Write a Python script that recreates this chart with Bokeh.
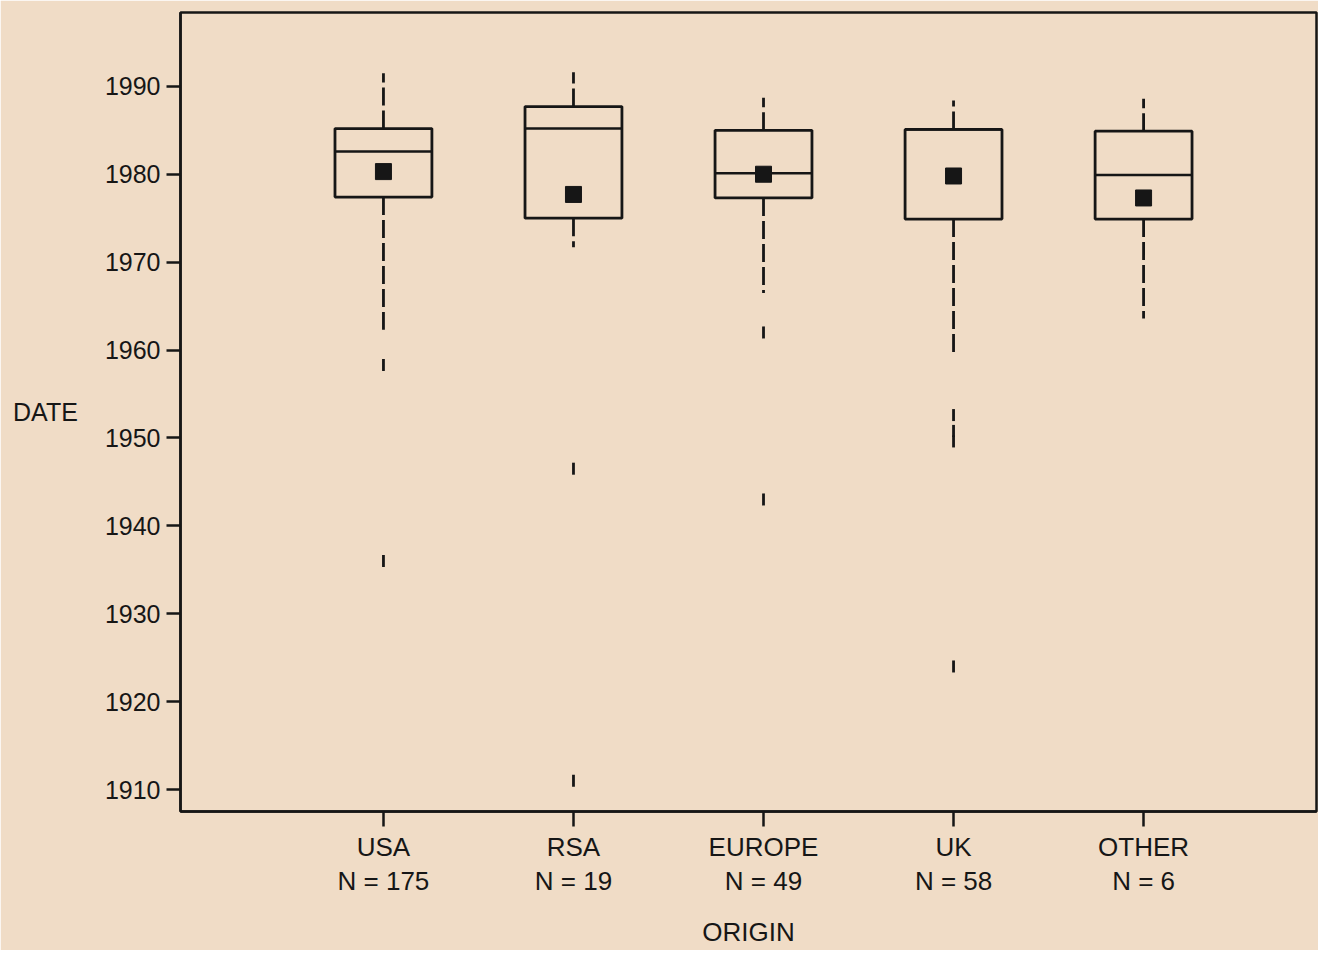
import math
from bokeh.plotting import figure
from bokeh.models import ColumnDataSource, FixedTicker, Range1d
from bokeh.embed import file_html
from bokeh.resources import INLINE

# ---- data ----
origins = ["USA", "RSA", "EUROPE", "UK", "OTHER"]
counts = [175, 19, 49, 58, 6]
upper_whisker = [1991.5, 1991.6, 1988.7, 1988.4, 1988.6]
q3 = [1985.2, 1987.7, 1985.0, 1985.1, 1984.9]
median = [1982.6, 1985.2, 1980.1, 1985.1, 1979.9]
q1 = [1977.4, 1975.0, 1977.3, 1974.9, 1974.9]
lower_whisker = [1962.3, 1971.7, 1966.5, 1959.4, 1963.6]
mean = [1980.3, 1977.7, 1980.0, 1979.8, 1977.3]
outlier_origin = ["USA", "USA", "RSA", "RSA", "EUROPE", "EUROPE", "UK", "UK", "UK", "UK"]
outlier_value = [1958.3, 1936.0, 1946.5, 1911.0, 1962.0, 1943.0, 1952.6, 1950.8, 1949.6, 1924.0]
y_ticks = [1910, 1920, 1930, 1940, 1950, 1960, 1970, 1980, 1990]

BG = "#f0dcc6"
INK = "#161616"
FONT = "Liberation Sans"

xpos = [i + 1 for i in range(len(origins))]
half = 0.255
src = ColumnDataSource(dict(
    x=xpos, left=[x - half for x in xpos], right=[x + half for x in xpos],
    uw=upper_whisker, q3=q3, med=median, q1=q1, lw=lower_whisker, mean=mean,
))
out_src = ColumnDataSource(dict(
    x=[origins.index(o) + 1 for o in outlier_origin], y=outlier_value,
))

p = figure(width=1318, height=950, output_backend="svg", toolbar_location=None,
           x_range=Range1d(-0.068, 5.91), y_range=Range1d(1907.5, 1998.4),
           background_fill_color=BG, border_fill_color=BG,
           min_border_left=180, min_border_top=12, min_border_right=2, min_border_bottom=138)
p.grid.visible = False
p.outline_line_color = INK
p.outline_line_width = 2.5

# whiskers
p.segment(x0="x", y0="q3", x1="x", y1="uw", source=src, line_color=INK, line_width=2.8, line_dash="18 5")
p.segment(x0="x", y0="q1", x1="x", y1="lw", source=src, line_color=INK, line_width=2.8, line_dash="18 5")
# boxes
p.quad(left="left", right="right", top="q3", bottom="q1", source=src,
       fill_color=None, line_color=INK, line_width=2.8)
# medians
p.segment(x0="left", y0="med", x1="right", y1="med", source=src, line_color=INK, line_width=2.5)
# means
p.scatter(x="x", y="mean", source=src, marker="square", size=16, fill_color=INK, line_color=INK)
# outliers
p.scatter(x="x", y="y", source=out_src, marker="dash", angle=math.pi / 2, size=12,
          line_color=INK, line_width=2.8)

# y axis
ya = p.yaxis[0]
ya.ticker = FixedTicker(ticks=y_ticks)
ya.minor_tick_line_color = None
ya.major_tick_in = 0
ya.major_tick_out = 14
ya.major_tick_line_width = 2.5
ya.major_tick_line_color = INK
ya.axis_line_width = 2.5
ya.axis_line_color = INK
ya.major_label_text_font = FONT
ya.major_label_text_font_size = "25px"
ya.major_label_text_color = INK
ya.major_label_standoff = 6
ya.axis_label = "DATE"
ya.axis_label_orientation = "horizontal"
ya.axis_label_text_font = FONT
ya.axis_label_text_font_size = "25px"
ya.axis_label_text_font_style = "normal"
ya.axis_label_text_color = INK
ya.axis_label_standoff = 24

# x axis
xa = p.xaxis[0]
xa.ticker = FixedTicker(ticks=xpos)
xa.major_label_overrides = {x: f"{o}\nN = {n}" for x, o, n in zip(xpos, origins, counts)}
xa.minor_tick_line_color = None
xa.major_tick_in = 0
xa.major_tick_out = 15
xa.major_tick_line_width = 2.5
xa.major_tick_line_color = INK
xa.axis_line_width = 2.5
xa.axis_line_color = INK
xa.major_label_text_font = FONT
xa.major_label_text_font_size = "26px"
xa.major_label_text_color = INK
xa.major_label_text_line_height = 1.15
xa.major_label_standoff = 5
xa.axis_label = "ORIGIN"
xa.axis_label_text_font = FONT
xa.axis_label_text_font_size = "26px"
xa.axis_label_text_font_style = "normal"
xa.axis_label_text_color = INK
xa.axis_label_standoff = 18

open("out.html", "w").write(file_html(p, INLINE))
